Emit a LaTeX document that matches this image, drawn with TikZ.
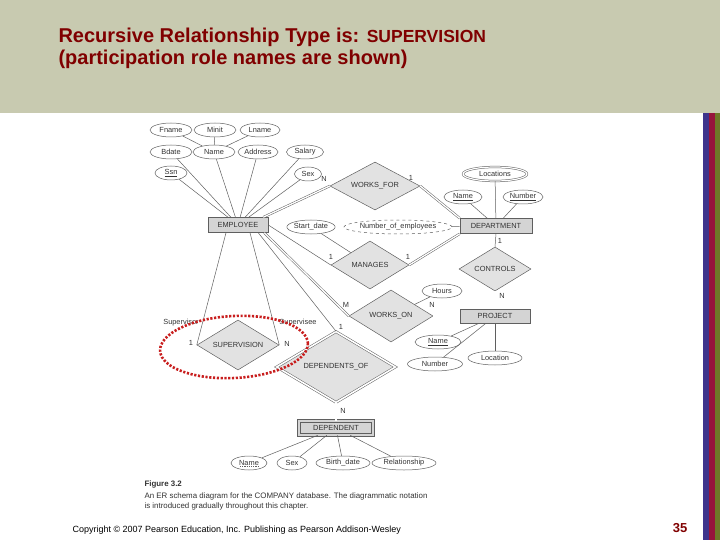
\documentclass[tikz,border=0pt]{standalone}
\usepackage{fontspec}
\setmainfont{Liberation Sans}
\usetikzlibrary{shapes.geometric, positioning}

\definecolor{bandgray}{RGB}{200,202,176}
\definecolor{titlered}{RGB}{128,0,0}
\definecolor{barblue}{RGB}{62,52,140}
\definecolor{barred}{RGB}{150,20,60}
\definecolor{barolive}{RGB}{110,120,40}
\definecolor{linegray}{RGB}{95,95,95}
\definecolor{entgray}{RGB}{212,212,212}
\definecolor{relgray}{RGB}{226,226,226}
\definecolor{dotred}{RGB}{200,30,30}

\begin{document}
\begin{tikzpicture}[x=1pt, y=-1pt,
  every node/.style={font=\fontsize{7.4}{8}\selectfont, text=black!80},
  conn/.style={draw=linegray, line width=0.5pt},
  total/.style={conn, double=white, double distance=1.3pt},
  entity/.style={rectangle, draw=linegray, line width=0.6pt, fill=entgray,
    minimum width=60pt, minimum height=15pt, inner sep=1pt},
  weakentity/.style={entity, double=entgray, double distance=2pt,
    minimum width=74pt, minimum height=14pt},
  attr/.style={ellipse, draw=linegray, line width=0.5pt, fill=white,
    minimum height=14pt, inner sep=0pt},
  rel/.style={diamond, aspect=2, draw=linegray, line width=0.5pt,
    fill=relgray, inner sep=0pt},
  card/.style={font=\fontsize{7.4}{8}\selectfont, inner sep=0pt},
  title/.style={font=\fontsize{20}{22}\selectfont\bfseries, text=titlered, anchor=west}]
\useasboundingbox (0,0) rectangle (720,540);

% Slide frame
\fill[bandgray] (0,0) rectangle (720,113);
\fill[barblue]  (703,113) rectangle (709,540);
\fill[barred]   (709,113) rectangle (715,540);
\fill[barolive] (715,113) rectangle (720,540);

\node[title] (t1) at (55,37) {Recursive Relationship Type is: {\fontsize{17.5}{20}\selectfont SUPERVISION}};
\node[title] (t2) at (55,59) {(participation role names are shown)};

% Entities
\node[entity] (emp)  at (238,225) {EMPLOYEE};
\node[entity, minimum width=72pt] (dept) at (496,226) {DEPARTMENT};
\node[entity, minimum width=70pt, minimum height=14pt] (proj) at (495,316) {PROJECT};
\node[weakentity] (dep) at (336,428) {DEPENDENT};

% Relationships
\node[rel, minimum width=90pt, minimum height=48pt] (worksfor) at (375,186) {WORKS\_FOR};
\node[rel, minimum width=78pt, minimum height=48pt] (manages)  at (370,265) {MANAGES};
\node[rel, minimum width=72pt, minimum height=44pt] (controls) at (495,269) {CONTROLS};
\node[rel, minimum width=84pt, minimum height=52pt] (workson)  at (391,316) {WORKS\_ON};
\node[rel, minimum width=82pt, minimum height=50pt] (superv)   at (238,345) {SUPERVISION};
\node[rel, minimum width=119pt, minimum height=71pt, double=white,
      double distance=1.6pt] (depof) at (336,367) {DEPENDENTS\_OF};

% Attributes of EMPLOYEE
\node[attr, minimum width=42pt] (fname)  at (171,130) {Fname};
\node[attr, minimum width=42pt] (minit)  at (215,130) {Minit};
\node[attr, minimum width=40pt] (lname)  at (260,130) {Lname};
\node[attr, minimum width=42pt] (bdate)  at (171,152) {Bdate};
\node[attr, minimum width=42pt] (ename)  at (214,152) {Name};
\node[attr, minimum width=40pt] (addr)   at (258,152) {Address};
\node[attr, minimum width=37pt] (salary) at (305,152) {Salary};
\node[attr, minimum width=32pt] (ssn)    at (171,173) {\underline{Ssn}};
\node[attr, minimum width=27pt] (esex)   at (308,174) {Sex};

% Attributes of DEPARTMENT and MANAGES
\node[attr, minimum width=48pt] (sdate)  at (311,227) {Start\_date};
\node[attr, minimum width=97pt, dashed] (numemp) at (398,227) {Number\_of\_employees};
\node[attr, minimum width=64pt, double, double distance=1.2pt] (locs) at (495,174) {Locations};
\node[attr, minimum width=38pt] (dname)  at (463,197) {\underline{Name}};
\node[attr, minimum width=40pt] (dnum)   at (523,197) {\underline{Number}};

% Attributes of PROJECT and WORKS_ON
\node[attr, minimum width=40pt] (hours)  at (442,291) {Hours};
\node[attr, minimum width=46pt] (pname)  at (438,342) {\underline{Name}};
\node[attr, minimum width=55pt] (pnum)   at (435,364) {Number};
\node[attr, minimum width=54pt] (ploc)   at (495,358) {Location};

% Attributes of DEPENDENT
\node[attr, minimum width=36pt] (depname) at (249,463) {Name};
\node[attr, minimum width=30pt] (depsex)  at (292,463) {Sex};
\node[attr, minimum width=54pt] (bdate2)  at (343,463) {Birth\_date};
\node[attr, minimum width=64pt] (relship) at (404,463) {Relationship};
% partial key underline
\draw[conn, dash pattern=on 1.2pt off 1pt]
  ([xshift=-9pt, yshift=-3.2pt]depname.center) -- ([xshift=9pt, yshift=-3.2pt]depname.center);

% Attribute links
\foreach \a in {fname, minit, lname} \draw[conn] (\a) -- (ename);
\foreach \a in {bdate, ename, addr, salary, ssn, esex} \draw[conn] (\a) -- (emp);
\foreach \a in {locs, dname, dnum, numemp} \draw[conn] (\a) -- (dept);
\foreach \a in {pname, pnum, ploc} \draw[conn] (\a) -- (proj);
\foreach \a in {depname, depsex, bdate2, relship} \draw[conn] (\a) -- (dep);
\draw[conn] (sdate) -- (manages);
\draw[conn] (hours) -- (workson);

% Relationship links
\draw[total] ([xshift=-5pt]emp.north east) -- (worksfor.west);
\draw[total] (worksfor.east) -- (dept.north west);
\draw[conn]  (emp.east) -- (manages.west);
\draw[total] (manages.east) -- (dept.south west);
\draw[conn]  (dept.south) -- (controls.north);
\draw[total] (controls.south) -- (proj.north);
\draw[total] ([xshift=-4pt]emp.south east) -- (workson.west);
\draw[total] (workson.east) -- (proj.west);
\draw[conn]  ([xshift=-10pt]emp.south east) -- (depof.north);
\draw[total] (depof.south) -- (dep.north);
\draw[conn]  ([xshift=-12pt]emp.south) -- (superv.west);
\draw[conn]  ([xshift=12pt]emp.south) -- (superv.east);

% Cardinalities and role names
\node[card] (c1)  at (324,179) {N};
\node[card] (c2)  at (411,178) {1};
\node[card] (c3)  at (331,257) {1};
\node[card] (c4)  at (408,257) {1};
\node[card] (c5)  at (500,241) {1};
\node[card] (c6)  at (502,296) {N};
\node[card] (c7)  at (346,305) {M};
\node[card] (c8)  at (432,305) {N};
\node[card] (c9)  at (341,327) {1};
\node[card] (c10) at (343,411) {N};
\node[card] (c11) at (191,343) {1};
\node[card] (c12) at (287,344) {N};
\node[card] (rsor) at (181,323) {Supervisor};
\node[card] (rsee) at (298,323) {Supervisee};

% Highlight
\draw[dotred, line width=2.6pt, dash pattern=on 2.2pt off 1.6pt,
      rotate around={3:(234,347)}] (234,347) ellipse (74 and 31);

% Figure caption
\node[anchor=west, font=\fontsize{7.9}{8}\selectfont\bfseries] (fig) at (141,484) {Figure 3.2};
\node[anchor=north west, align=left, font=\fontsize{7.9}{10.5}\selectfont] (cap) at (141,489)
  {An ER schema diagram for the COMPANY database. The diagrammatic notation\\
   is introduced gradually throughout this chapter.};

% Footer
\node[anchor=west, font=\fontsize{9}{10}\selectfont, text=black] (copy) at (69,530)
  {Copyright \textcopyright{} 2007 Pearson Education, Inc. Publishing as Pearson Addison-Wesley};
\node[font=\fontsize{13}{15}\selectfont\bfseries, text=titlered] (pg) at (680,528) {35};
\end{tikzpicture}
\end{document}
